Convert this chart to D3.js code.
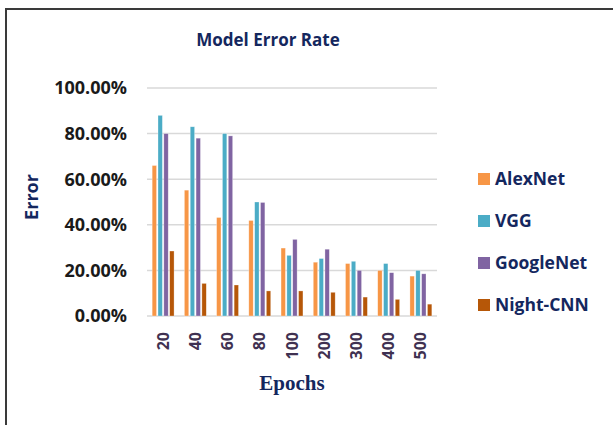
<!DOCTYPE html>
<html>
<head>
<meta charset="utf-8">
<script src="https://cdn.jsdelivr.net/npm/d3@7"></script>
<style>
  body { margin: 0; background: #fff; }
  text { font-family: "Open Sans", sans-serif; font-weight: bold; }
</style>
</head>
<body>
<svg id="chart" width="613" height="425"></svg>
<script>
// Chart data
const epochs = ["20", "40", "60", "80", "100", "200", "300", "400", "500"];
const models = ["AlexNet", "VGG", "GoogleNet", "Night-CNN"];
const alexnet   = [0.66, 0.552, 0.432, 0.419, 0.298, 0.236, 0.23, 0.20, 0.175];
const vgg       = [0.88, 0.83, 0.80, 0.50, 0.266, 0.252, 0.24, 0.23, 0.20];
const googlenet = [0.80, 0.78, 0.79, 0.498, 0.336, 0.293, 0.20, 0.19, 0.185];
const nightcnn  = [0.285, 0.143, 0.136, 0.11, 0.11, 0.104, 0.083, 0.073, 0.052];
const yTicks = [0, 0.2, 0.4, 0.6, 0.8, 1.0];
const colors = ["#F79646", "#4BACC6", "#8064A2", "#B65708"];

const seriesValues = [alexnet, vgg, googlenet, nightcnn];

const svg = d3.select("svg#chart");

// outer border (left and top only visible)
svg.append("path")
    .attr("d", "M6,425 L6,9 L613,9")
    .attr("fill", "none")
    .attr("stroke", "#3a3a3a")
    .attr("stroke-width", 2);

// Scales
const x = d3.scaleBand()
    .domain(epochs)
    .range([147, 437])
    .paddingInner(0.32)
    .paddingOuter(0.16);

const xSub = d3.scaleBand()
    .domain(models)
    .range([0, x.bandwidth()])
    .paddingInner(0.25);

const y = d3.scaleLinear()
    .domain([0, 1])
    .range([316, 88]);

const color = d3.scaleOrdinal(models, colors);

// Gridlines
svg.append("g")
    .selectAll("line")
    .data(yTicks)
    .enter()
    .append("line")
    .attr("x1", 147)
    .attr("x2", 437)
    .attr("y1", d => y(d))
    .attr("y2", d => y(d))
    .attr("stroke", "#d9d9d9")
    .attr("stroke-width", 1.5);

// Y tick labels
svg.append("g")
    .selectAll("text")
    .data(yTicks)
    .enter()
    .append("text")
    .attr("x", 127)
    .attr("y", d => y(d))
    .attr("dy", "0.35em")
    .attr("text-anchor", "end")
    .attr("font-size", 18)
    .attr("fill", "#1a1a1a")
    .text(d => d3.format(".2%")(d));

// Bars
const group = svg.append("g")
    .selectAll("g")
    .data(epochs)
    .enter()
    .append("g")
    .attr("transform", d => "translate(" + x(d) + ",0)");

group.selectAll("rect")
    .data((d, i) => models.map((m, j) => ({ model: m, value: seriesValues[j][i] })))
    .enter()
    .append("rect")
    .attr("x", d => xSub(d.model))
    .attr("y", d => y(d.value))
    .attr("width", xSub.bandwidth())
    .attr("height", d => y(0) - y(d.value))
    .attr("fill", d => color(d.model))
    .attr("stroke", "#ffffff")
    .attr("stroke-opacity", 0.5)
    .attr("stroke-width", 0.6);

// X tick labels (rotated)
svg.append("g")
    .selectAll("text")
    .data(epochs)
    .enter()
    .append("text")
    .attr("transform", d => "translate(" + (x(d) + x.bandwidth() / 2) + ",332) rotate(-90)")
    .attr("dy", "0.35em")
    .attr("text-anchor", "end")
    .attr("font-size", 16)
    .attr("fill", "#3F3151")
    .text(d => d);

// Title
svg.append("text")
    .attr("x", 268)
    .attr("y", 46)
    .attr("text-anchor", "middle")
    .attr("font-size", 17)
    .attr("fill", "#14275e")
    .text("Model Error Rate");

// Axis titles
svg.append("text")
    .attr("transform", "translate(38,197) rotate(-90)")
    .attr("text-anchor", "middle")
    .attr("font-size", 18)
    .attr("fill", "#14275e")
    .text("Error");

svg.append("text")
    .attr("x", 292)
    .attr("y", 390)
    .attr("text-anchor", "middle")
    .attr("font-size", 21)
    .attr("fill", "#14275e")
    .style("font-family", "'Liberation Serif', serif")
    .text("Epochs");

// Legend
const legend = svg.append("g")
    .selectAll("g")
    .data(models)
    .enter()
    .append("g")
    .attr("transform", (d, i) => "translate(478," + (179 + i * 42) + ")");

legend.append("rect")
    .attr("x", 0)
    .attr("y", -6)
    .attr("width", 12)
    .attr("height", 12)
    .attr("fill", d => color(d));

legend.append("text")
    .attr("x", 17)
    .attr("dy", "0.35em")
    .attr("font-size", 17.5)
    .attr("fill", "#14275e")
    .text(d => d);
</script>
</body>
</html>
